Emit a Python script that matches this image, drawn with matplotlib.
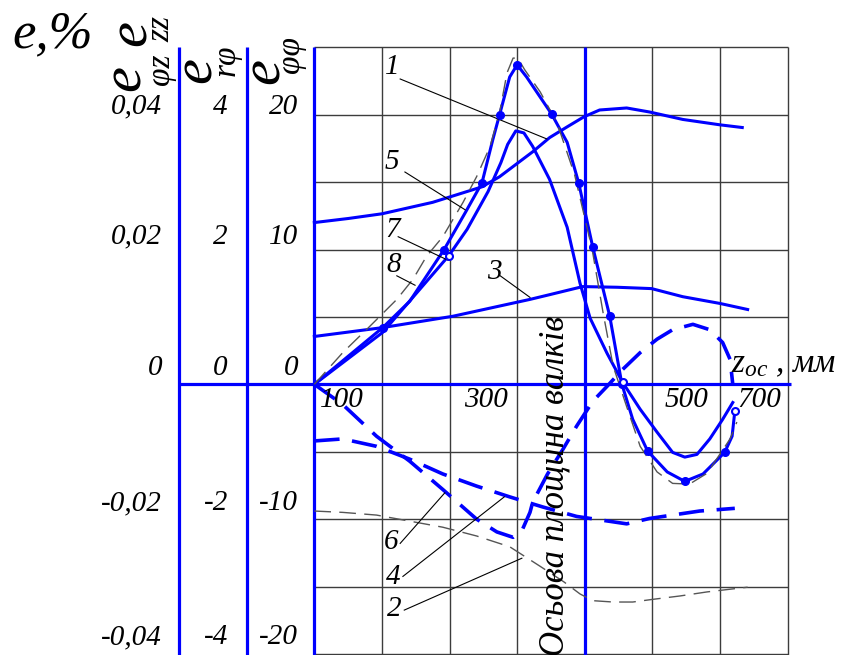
import numpy as np
import matplotlib.pyplot as plt

plt.rcParams['font.family'] = ['Liberation Serif', 'DejaVu Serif']
plt.rcParams['font.style'] = 'italic'
plt.rcParams['mathtext.fontset'] = 'custom'
plt.rcParams['mathtext.it'] = 'Liberation Serif:italic'
plt.rcParams['mathtext.rm'] = 'Liberation Serif:italic'

# z_oc in mm, e in % on the left scale (0.01 per grid cell)
# curve 1
z1 = [0, 50, 100, 175, 248, 274, 323, 348, 374, 399, 422, 462, 496, 545, 600, 633]
e1 = [0.0240, 0.0246, 0.0253, 0.0270, 0.0293, 0.0308, 0.0345, 0.0366, 0.0382,
      0.0397, 0.0407, 0.0410, 0.0404, 0.0393, 0.0385, 0.0381]

# curve 5 (with points)
z5 = [0, 101, 141, 192, 224, 248, 264, 274, 289, 300, 314, 351, 374, 391, 412,
      437, 455, 471, 493, 522, 548, 575, 607, 618, 622]
e5 = [0, 0.0084, 0.0123, 0.0200, 0.0256, 0.0299, 0.0363, 0.0400, 0.0456, 0.0474,
      0.0456, 0.0401, 0.0359, 0.0299, 0.0203, 0.0101, 0.0, -0.0052, -0.0099,
      -0.0130, -0.0144, -0.0133, -0.0101, -0.0077, -0.0040]
pts5 = [1, 3, 5, 7, 9, 11, 13, 14, 15, 16, 18, 20, 22]

# curve 7
z7 = [0, 101, 199, 226, 257, 276, 286, 298, 310, 323, 348, 374, 393, 408, 433,
      456, 482, 507, 530, 548, 566, 585, 604, 619]
e7 = [0, 0.0077, 0.0191, 0.0230, 0.0286, 0.0329, 0.0356, 0.0376, 0.0373, 0.0353,
      0.0304, 0.0233, 0.0150, 0.0098, 0.0046, 0.0003, -0.0037, -0.0071, -0.0101,
      -0.0108, -0.0104, -0.0081, -0.0052, -0.0027]

# curve 8 (thin dashed)
z8 = [0, 42, 82, 122, 146, 166, 190, 220, 240, 260, 274, 285, 294, 301, 311, 334,
      359, 385, 411, 427, 442, 462, 482, 507, 530, 555, 581, 615, 625]
e8 = [0, 0.0047, 0.0086, 0.0126, 0.0156, 0.0190, 0.0219, 0.0270, 0.0308, 0.0353,
      0.0403, 0.0462, 0.0484, 0.0484, 0.0467, 0.0434, 0.0388, 0.0311, 0.0200,
      0.0107, 0.0027, -0.0033, -0.0092, -0.0130, -0.0147, -0.0148, -0.0132,
      -0.0081, -0.0056]

# curve 3
z3 = [0, 100, 205, 319, 348, 397, 448, 499, 545, 600, 641]
e3 = [0.0071, 0.0084, 0.0101, 0.0126, 0.0133, 0.0145, 0.0144, 0.0142, 0.0130,
      0.0120, 0.0111]

# curve 4 (dashed)
z4 = [0, 42, 92, 141, 190, 240, 289, 338, 388, 462, 496, 570, 622]
e4 = [-0.0084, -0.0081, -0.0092, -0.0111, -0.0133, -0.0151, -0.0167, -0.0182,
      -0.0196, -0.0207, -0.0199, -0.0188, -0.0184]

# curve 6 (dashed)
z6 = [0, 42, 92, 141, 190, 240, 270, 294, 308, 319, 323, 345, 368, 388, 412, 433,
      456, 482, 507, 530, 560, 585, 604, 615, 619]
e6 = [0, -0.0030, -0.0077, -0.0114, -0.0156, -0.0200, -0.0219, -0.0227, -0.0215,
      -0.0190, -0.0175, -0.0133, -0.0096, -0.0062, -0.0025, -0.0003, 0.0022,
      0.0047, 0.0067, 0.0081, 0.0089, 0.0081, 0.0062, 0.0037, 0.0]

# curve 2 (thin dashed)
z2 = [0, 42, 92, 141, 190, 240, 289, 334, 369, 393, 412, 442, 471, 501, 541, 581,
      615, 641]
e2 = [-0.0188, -0.0190, -0.0194, -0.0203, -0.0212, -0.0225, -0.0241, -0.0270,
      -0.0293, -0.0311, -0.0321, -0.0323, -0.0323, -0.0319, -0.0314, -0.0308,
      -0.0304, -0.0301]

tick_e = [0.04, 0.02, 0, -0.02, -0.04]
lab_e1 = ['0,04', '0,02', '0', '-0,02', '-0,04']
lab_e2 = ['4', '2', '0', '-2', '-4']
lab_e3 = ['20', '10', '0', '-10', '-20']

BLUE = '#0000ff'
GRID = '#3c3c3c'
GRAY = '#555555'

fig = plt.figure(figsize=(8.45, 6.55), dpi=100)
ax = fig.add_axes([0, 0, 1, 1])
ax.set_xlim(-465, 785)
ax.set_ylim(-0.04016, 0.05702)
ax.axis('off')

# grid
ax.vlines(np.arange(100, 701, 100), -0.0402, 0.05, color=GRID, lw=1.0, zorder=1)
ax.hlines(np.arange(-0.04, 0.0501, 0.01), 0, 700, color=GRID, lw=1.0, zorder=1)

# e axes, zero line, plane of the rolls
ax.vlines([-200, -100, 0, 400], -0.0402, 0.05, color=BLUE, lw=2.3, zorder=2)
ax.hlines(0, -200, 705, color=BLUE, lw=2.3, zorder=2)

# curves
ax.plot(z1, e1, color=BLUE, lw=2.2, zorder=3)
ax.plot(z3, e3, color=BLUE, lw=2.2, zorder=3)
ax.plot(z7, e7, color=BLUE, lw=2.2, zorder=3)
ax.plot(z5, e5, color=BLUE, lw=2.2, zorder=3)
ax.plot(np.array(z5)[pts5], np.array(e5)[pts5], 'o', color=BLUE, ms=5.5, zorder=4)
ax.plot(z5[-1], e5[-1], 'o', mfc='white', mec=BLUE, mew=1.5, ms=5, zorder=4)
ax.plot([z7[2], z7[15]], [e7[2], e7[15]], 'o', mfc='white', mec=BLUE, mew=1.5,
        ms=5, zorder=4)
ax.plot(z4, e4, color=BLUE, lw=2.6, dashes=(7, 3.5), zorder=3)
ax.plot(z6, e6, color=BLUE, lw=2.6, dashes=(7, 3.5), zorder=3)
ax.plot(z8, e8, color=GRAY, lw=1.0, dashes=(12, 6), zorder=3)
ax.plot(z2, e2, color=GRAY, lw=1.0, dashes=(12, 6), zorder=3)

# tick labels of the three scales
for v, dv, a, b, c in zip(tick_e, [0.0012, 0.0019, 0.0024, 0.0024, 0.0025],
                          lab_e1, lab_e2, lab_e3):
    ax.text(-225, v + dv, a, ha='right', va='center', fontsize=21)
    ax.text(-128, v + dv, b, ha='right', va='center', fontsize=21)
    ax.text(-24, v + dv, c, ha='right', va='center', fontsize=21)

for pos, s in zip([41, 254, 550, 658], ['100', '300', '500', '700']):
    ax.text(pos, -0.0024, s, ha='center', va='center', fontsize=21)

ax.text(617, 0.0018, r'$z_{oc}$ , мм', ha='left', va='baseline', fontsize=24)

# axis titles
ax.text(-447, 0.0500, 'e,%', ha='left', va='baseline', fontsize=38)
rot = dict(rotation=90, rotation_mode='anchor', ha='center', va='baseline')
ax.text(-249, 0.05205, 'e', fontsize=42, **rot)
ax.text(-215, 0.05272, 'zz', fontsize=24, **rot)
ax.text(-259, 0.04537, 'e', fontsize=42, **rot)
ax.text(-215, 0.04678, 'φz', fontsize=24, **rot)
ax.text(-153, 0.04663, 'e', fontsize=42, **rot)
ax.text(-118, 0.04812, 'rφ', fontsize=24, **rot)
ax.text(-52, 0.04648, 'e', fontsize=42, **rot)
ax.text(-22, 0.04886, 'φφ', fontsize=24, **rot)

ax.text(368, -0.0150, 'Осьова площина валків', fontsize=25, **rot)

# curve numbers with leaders
labels = [
    ('1', (116, 0.0471), (127, 0.0453), (344, 0.0364)),
    ('5', (115, 0.0330), (134, 0.0315), (223, 0.0259)),
    ('7', (116, 0.0229), (124, 0.0219), (198, 0.0184)),
    ('8', (118, 0.0177), (122, 0.0161), (149, 0.0147)),
    ('3', (266, 0.0167), (275, 0.0161), (319, 0.0129)),
    ('6', (114, -0.0234), (127, -0.0236), (193, -0.0161)),
    ('4', (116, -0.0286), (131, -0.0285), (281, -0.0167)),
    ('2', (119, -0.0333), (133, -0.0335), (307, -0.0258)),
]
for s, (tx, ty), (x0, y0), (x1, y1) in labels:
    ax.text(tx, ty, s, ha='center', va='center', fontsize=21)
    ax.plot([x0, x1], [y0, y1], color='black', lw=0.8, zorder=3)

fig.savefig('out.png', dpi=100)
